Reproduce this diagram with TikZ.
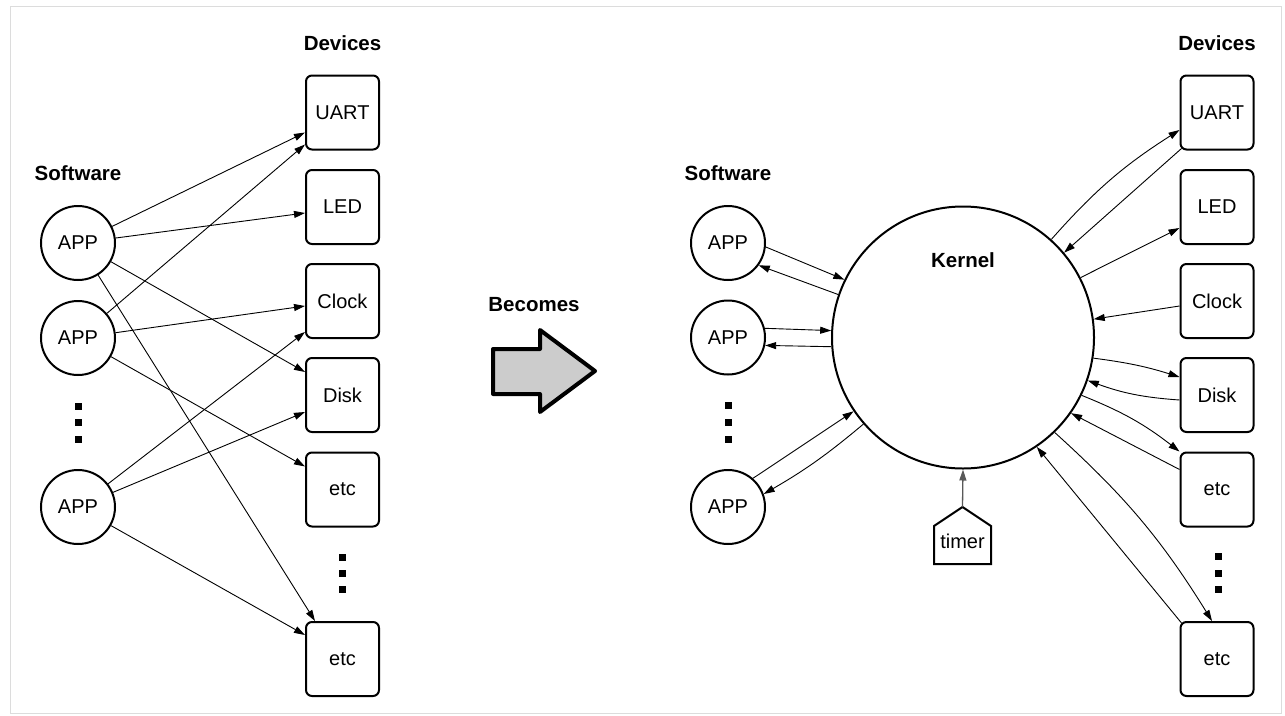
\documentclass[tikz,border=0pt]{standalone}
\usepackage{fontspec}
\setmainfont{Liberation Sans}
\usetikzlibrary{arrows.meta,calc}
\definecolor{framegray}{HTML}{DCDCDC}
\definecolor{arrowfill}{HTML}{CCCCCC}
\tikzset{
  dev/.style={draw, line width=2pt, rounded corners=6pt, minimum width=73pt,
    minimum height=74pt, inner sep=0pt, font=\fontsize{20}{24}\selectfont},
  app/.style={draw, circle, line width=2pt, minimum size=74pt, inner sep=0pt,
    font=\fontsize{20}{24}\selectfont},
  lbl/.style={font=\bfseries\fontsize{20.5}{24}\selectfont, inner sep=0pt},
  link/.style={line width=0.9pt, -{Triangle[length=11pt,width=7pt]}},
  dotsq/.style={fill=black, minimum size=7pt, inner sep=0pt},
}
\begin{document}
\begin{tikzpicture}[x=1pt,y=-1pt]
\useasboundingbox (0,0) rectangle (1285,715);
% outer frame
\draw[framegray, line width=1.5pt] (10.5,6.5) rectangle (1281.5,713.5);

% ---------------- direct access ----------------
\node[lbl] (lsw) at (78,173) {Software};
\node[lbl] (ldev) at (342.5,43) {Devices};
\node[app] (lapp1) at (78,243) {APP};
\node[app] (lapp2) at (78,338) {APP};
\node[app] (lapp3) at (78,507) {APP};
\node[dotsq] (lda) at (78,406) {};
\node[dotsq] (ldb) at (78,422.5) {};
\node[dotsq] (ldc) at (78,439) {};

\node[dev] (luart)  at (342.5,112.5) {UART};
\node[dev] (lled)   at (342.5,207)   {LED};
\node[dev] (lclock) at (342.5,301)   {Clock};
\node[dev] (ldisk)  at (342.5,395)   {Disk};
\node[dev] (letca)  at (342.5,489.5) {etc};
\node[dev] (letcb)  at (342.5,659)   {etc};
\node[dotsq] (lde) at (342.5,557) {};
\node[dotsq] (ldf) at (342.5,573) {};
\node[dotsq] (ldg) at (342.5,589) {};

\draw[link] (lapp1) -- ($(luart.west)+(0,20)$);
\draw[link] (lapp1) -- ($(lled.west)+(0,6)$);
\draw[link] (lapp1) -- ($(ldisk.west)+(0,-23)$);
\draw[link] (lapp1) -- ($(letcb.north west)+(10,0)$);
\draw[link] (lapp2) -- ($(luart.west)+(0,32)$);
\draw[link] (lapp2) -- ($(lclock.west)+(0,5)$);
\draw[link] (lapp2) -- ($(letca.west)+(0,-23)$);
\draw[link] (lapp3) -- ($(lclock.west)+(0,31)$);
\draw[link] (lapp3) -- ($(ldisk.west)+(0,17)$);
\draw[link] (lapp3) -- ($(letcb.west)+(0,-24)$);

% ---------------- transition ----------------
\node[lbl] (becomes) at (534,305) {Becomes};
\draw[line width=4pt, line join=round, fill=arrowfill]
  (493,349) -- (540,349) -- (540,330) -- (595,371) -- (540,412)
  -- (540,394) -- (493,394) -- cycle;

% ---------------- through the kernel ----------------
\node[lbl] (rsw) at (728,173) {Software};
\node[lbl] (rdev) at (1217,43) {Devices};
\node[circle, draw, line width=2pt, minimum size=262pt, inner sep=0pt] (kernel) at (963,337.5) {};
\node[lbl] (klabel) at (963,260) {Kernel};

\node[app] (rapp1) at (728,243) {APP};
\node[app] (rapp2) at (728,337.5) {APP};
\node[app] (rapp3) at (728,507) {APP};
\node[dotsq] (rda) at (728,405) {};
\node[dotsq] (rdb) at (728,422) {};
\node[dotsq] (rdc) at (728,439) {};

\node[dev] (ruart)  at (1217,112.5) {UART};
\node[dev] (rled)   at (1217,207)   {LED};
\node[dev] (rclock) at (1217,301)   {Clock};
\node[dev] (rdisk)  at (1217,395)   {Disk};
\node[dev] (retca)  at (1217,489.5) {etc};
\node[dev] (retcb)  at (1217,659)   {etc};
\node[dotsq] (rde) at (1218,556) {};
\node[dotsq] (rdf) at (1218,573) {};
\node[dotsq] (rdg) at (1218,589) {};

% timer
\node[font=\fontsize{20}{24}\selectfont, inner sep=0pt] (timer) at (962.5,541) {timer};
\coordinate (tapex) at (962.5,507);
\draw[line width=2pt, line join=miter] (934,564) -- (934,526) -- (tapex) -- (991,526) -- (991,564) -- cycle;
\draw[link, draw=black!65, line width=1.3pt] (tapex) -- (kernel.south);

% applications <-> kernel
\draw[link] (rapp1.-6) -- (kernel.154);
\draw[link] (kernel.161) -- (rapp1.-36);
\draw[link] (rapp2.14) -- (kernel.177);
\draw[link] (kernel.184) -- (rapp2.-12);
\draw[link] (rapp3.49) -- (kernel.214);
\draw[link] (kernel.221) to[bend left=5] (rapp3.20);

% kernel <-> devices
\draw[link] (kernel.48) to[bend left=8] ($(ruart.west)+(0,17.5)$);
\draw[link] ($(ruart.south west)+(2,-2)$) -- (kernel.40);
\draw[link] (kernel.27.5) -- ($(rled.west)+(0,21)$);
\draw[link] ($(rclock.west)+(0,5)$) -- (kernel.8.6);
\draw[link] (kernel.-9) to[bend left=5] ($(rdisk.west)+(0,-18)$);
\draw[link] ($(rdisk.west)+(0,5)$) to[bend left=8] (kernel.-19);
\draw[link] (kernel.-26) to[bend left=8] (retca.north west);
\draw[link] ($(retca.west)+(0,-20)$) -- (kernel.-35);
\draw[link] (kernel.-46) to[bend left=8] ($(retcb.north)+(-5,0)$);
\draw[link] ($(retcb.north west)+(2,2)$) -- (kernel.-56.5);
\end{tikzpicture}
\end{document}
